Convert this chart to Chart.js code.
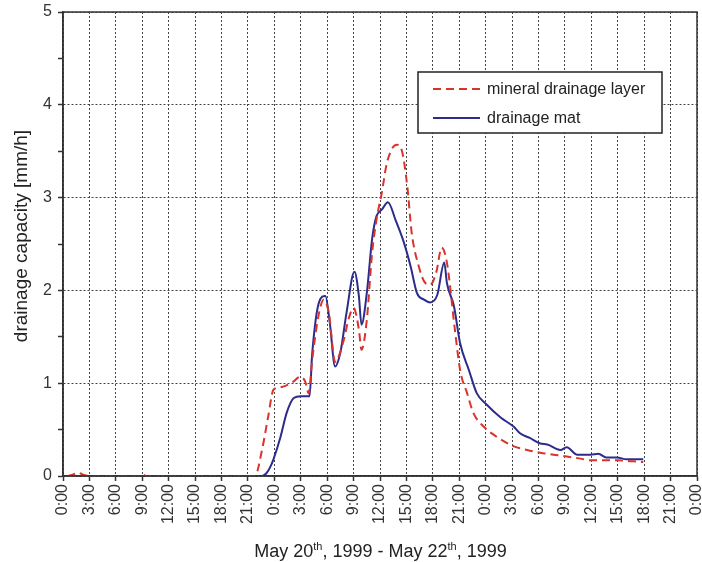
<!DOCTYPE html>
<html>
<head>
<meta charset="utf-8">
<script src="https://cdn.jsdelivr.net/npm/chart.js@4.4.1/dist/chart.umd.min.js"></script>
<style>
  html, body { margin: 0; padding: 0; background: #fff; }
  #wrap { position: relative; width: 702px; height: 562px; }
  #xtitle {
    position: absolute; left: 0; top: 541px; width: 702px;
    padding-left: 59px; box-sizing: border-box; text-align: center;
    font: 18px "Liberation Sans", Arial, sans-serif; line-height: 20px; color: #222;
  }
  #xtitle sup { font-size: 11px; vertical-align: 7px; line-height: 0; }
</style>
</head>
<body>
<div id="wrap">
  <canvas id="chart" width="702" height="562"></canvas>
  <div id="xtitle">May 20<sup>th</sup>, 1999 - May 22<sup>th</sup>, 1999</div>
</div>
<script>
// x values are hours since 0:00 on May 20th, 1999
const xTickLabels = ['0:00', '3:00', '6:00', '9:00', '12:00', '15:00', '18:00', '21:00',
                     '0:00', '3:00', '6:00', '9:00', '12:00', '15:00', '18:00', '21:00',
                     '0:00', '3:00', '6:00', '9:00', '12:00', '15:00', '18:00', '21:00', '0:00'];
const yTickLabels = [0, 1, 2, 3, 4, 5];

const mineralHours = [0.5, 1.0, 1.7, 2.4, 3.0, 8.6, 9.0, 9.4, 21.5, 21.8, 22.6, 23.3, 23.9, 24.85,
                      26.2, 26.9, 27.5, 27.9, 28.3, 29.0, 29.6, 30.2, 30.9, 31.9, 32.4, 33.0, 33.6,
                      33.9, 34.5, 35.1, 35.6, 36.2, 36.8, 37.9, 38.5, 39.1, 39.6, 40.4, 41.0, 41.7,
                      42.4, 43.0, 43.6, 44.5, 45.1, 45.9, 46.6, 47.8, 49.3, 51.2, 52.7, 54.2, 55.7,
                      57.2, 58.6, 59.9, 61.4, 62.9, 64.4, 65.9];
const mineralValues = [0, 0.01, 0.035, 0.01, 0, 0, 0.02, 0, 0, 0, 0.28, 0.64, 0.93, 0.96,
                       1.02, 1.07, 1.02, 0.89, 1.25, 1.72, 1.9, 1.75, 1.23, 1.47, 1.68, 1.81, 1.58,
                       1.36, 1.68, 2.4, 2.76, 3.05, 3.38, 3.57, 3.5, 3.12, 2.62, 2.26, 2.1, 2.06,
                       2.2, 2.46, 2.3, 1.58, 1.14, 0.89, 0.68, 0.53, 0.42, 0.32, 0.28, 0.25, 0.23,
                       0.21, 0.19, 0.17, 0.17, 0.17, 0.16, 0.15];

const matHours = [0.5, 22.6, 23.1, 23.5, 23.9, 24.7, 25.4, 26.2, 27.0, 27.7, 28.0, 28.3, 29.1, 29.8,
                  30.3, 30.9, 31.5, 32.2, 33.1, 33.6, 33.9, 34.5, 35.1, 35.6, 36.2, 36.9, 37.8,
                  38.7, 39.5, 40.2, 41.0, 41.7, 42.5, 43.3, 43.6, 44.4, 45.1, 46.1, 47.0, 48.1,
                  49.7, 51.2, 51.9, 53.0, 54.2, 55.0, 56.5, 57.2, 58.4, 59.9, 60.8, 61.7, 62.9,
                  64.0, 65.9];
const matValues = [0, 0, 0.03, 0.09, 0.18, 0.42, 0.68, 0.84, 0.86, 0.86, 0.86, 1.32, 1.88, 1.94,
                   1.65, 1.18, 1.33, 1.76, 2.2, 1.94, 1.63, 1.97, 2.55, 2.8, 2.87, 2.95, 2.75,
                   2.52, 2.25, 1.97, 1.9, 1.87, 1.95, 2.3, 2.08, 1.83, 1.43, 1.14, 0.89, 0.77,
                   0.63, 0.53, 0.46, 0.41, 0.35, 0.34, 0.28, 0.31, 0.23, 0.23, 0.24, 0.20, 0.20,
                   0.18, 0.18];

const FONT = '"Liberation Sans", Arial, sans-serif';
Chart.defaults.font.family = FONT;

// frame round the plot, boxed legend and the rotated y title
const framePlugin = {
    id: 'frameAndLegend',
    afterDatasetsDraw(chart) {
        const ctx = chart.ctx;
        const a = chart.chartArea;
        ctx.save();
        ctx.strokeStyle = '#333';
        ctx.lineWidth = 1.5;
        ctx.strokeRect(a.left, a.top, a.right - a.left, a.bottom - a.top);

        const bx = a.right - 279, by = a.top + 60, bw = 244, bh = 61;
        ctx.fillStyle = '#fff';
        ctx.fillRect(bx, by, bw, bh);
        ctx.strokeStyle = '#222';
        ctx.strokeRect(bx, by, bw, bh);
        chart.data.datasets.forEach((ds, i) => {
            const y = by + 17 + i * 29;
            ctx.strokeStyle = ds.borderColor;
            ctx.lineWidth = 2;
            ctx.setLineDash(ds.borderDash || []);
            ctx.beginPath();
            ctx.moveTo(bx + 15, y);
            ctx.lineTo(bx + 62, y);
            ctx.stroke();
            ctx.setLineDash([]);
            ctx.fillStyle = '#222';
            ctx.font = '16px ' + FONT;
            ctx.textBaseline = 'middle';
            ctx.textAlign = 'left';
            ctx.fillText(ds.label, bx + 69, y + 1);
        });

        ctx.translate(22, 236);
        ctx.rotate(-Math.PI / 2);
        ctx.font = '19px ' + FONT;
        ctx.fillStyle = '#222';
        ctx.textAlign = 'center';
        ctx.textBaseline = 'middle';
        ctx.fillText('drainage capacity [mm/h]', 0, 0);
        ctx.restore();
    }
};

const ctx = document.getElementById('chart').getContext('2d');
const drainageChart = new Chart(ctx, {
    type: 'line',
    data: {
        datasets: [{
            label: 'mineral drainage layer',
            data: mineralHours.map((h, i) => ({ x: h, y: mineralValues[i] })),
            borderColor: '#d8342c',
            borderWidth: 2,
            borderDash: [8, 5],
            pointRadius: 0,
            cubicInterpolationMode: 'monotone',
            fill: false
        }, {
            label: 'drainage mat',
            data: matHours.map((h, i) => ({ x: h, y: matValues[i] })),
            borderColor: '#2c2c8c',
            borderWidth: 2,
            pointRadius: 0,
            cubicInterpolationMode: 'monotone',
            fill: false
        }]
    },
    options: {
        responsive: false,
        animation: false,
        layout: { padding: { top: 12, right: 5, left: 0, bottom: 0 } },
        plugins: {
            legend: { display: false },
            tooltip: { enabled: false }
        },
        scales: {
            x: {
                type: 'linear',
                min: 0,
                max: 72,
                ticks: {
                    stepSize: 3,
                    autoSkip: false,
                    minRotation: 90,
                    maxRotation: 90,
                    padding: 3,
                    color: '#333',
                    font: { size: 16 },
                    callback: v => xTickLabels[Math.round(v / 3)]
                },
                grid: { color: '#444', lineWidth: 1, tickLength: 5, tickColor: '#333', tickWidth: 1.5 },
                border: { display: true, color: '#333', width: 1.5, dash: [2, 2] },
                afterFit: s => { s.height = 86; s.paddingLeft = 0; s.paddingRight = 0; }
            },
            y: {
                min: 0,
                max: 5,
                ticks: {
                    stepSize: 0.5,
                    padding: 6,
                    color: '#333',
                    font: { size: 16 },
                    callback: v => yTickLabels.includes(v) ? String(v) : ''
                },
                grid: {
                    color: c => Number.isInteger(c.tick.value) ? '#444' : 'rgba(0,0,0,0)',
                    lineWidth: 1,
                    tickLength: 5,
                    tickColor: '#333',
                    tickWidth: 1.5
                },
                border: { display: true, color: '#333', width: 1.5, dash: [2, 2] },
                afterFit: s => { s.width = 63; s.paddingTop = 0; s.paddingBottom = 0; }
            }
        }
    },
    plugins: [framePlugin]
});
</script>
</body>
</html>
